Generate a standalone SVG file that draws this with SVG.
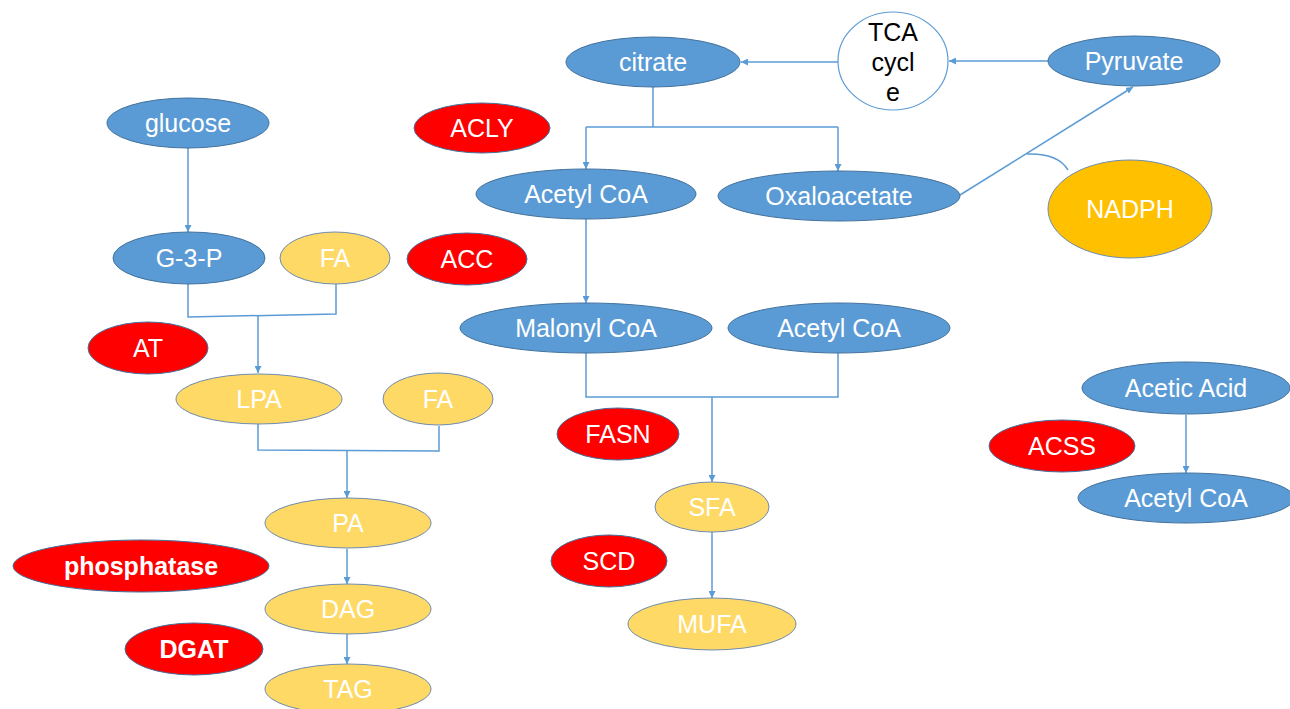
<svg xmlns="http://www.w3.org/2000/svg" width="1290" height="709" viewBox="0 0 1290 709">
<style>
.b{fill:#5B9BD5;stroke:#41719C;stroke-width:1}
.y{fill:#FFD966;stroke:#6E8BAF;stroke-width:1}
.r{fill:#FF0000;stroke:#41719C;stroke-width:1}
.o{fill:#FFC000;stroke:#6E8BAF;stroke-width:1}
.w{fill:#FFFFFF;stroke:#5B9BD5;stroke-width:1.2}
text{font-family:"Liberation Sans",Arial,sans-serif;font-size:25px;fill:#FFFFFF;text-anchor:middle}
text.bold{font-weight:bold}
text.k{fill:#000000}
.c{fill:none;stroke:#5B9BD5;stroke-width:1.5}
</style>
<defs>
<marker id="ah" viewBox="0 0 10 10" refX="10" refY="5" markerWidth="7" markerHeight="7" markerUnits="userSpaceOnUse" orient="auto">
<path d="M0,0 L10,5 L0,10 z" fill="#5B9BD5"/>
</marker>
</defs>
<g id="connectors">
<line class="c" x1="838" y1="62" x2="741" y2="62" marker-end="url(#ah)"/>
<line class="c" x1="1048" y1="61" x2="949" y2="61" marker-end="url(#ah)"/>
<polyline class="c" points="653,87 653,127"/>
<polyline class="c" points="586,127 838,127"/>
<line class="c" x1="586" y1="127" x2="586" y2="169" marker-end="url(#ah)"/>
<line class="c" x1="838" y1="127" x2="838" y2="171" marker-end="url(#ah)"/>
<line class="c" x1="960" y1="195" x2="1133" y2="87" marker-end="url(#ah)"/>
<path class="c" d="M1027,154 Q1058,153 1068,170"/>
<line class="c" x1="188" y1="148" x2="188" y2="232" marker-end="url(#ah)"/>
<polyline class="c" points="188,284 188,317 336,314 336,284"/>
<line class="c" x1="258" y1="316" x2="258" y2="373" marker-end="url(#ah)"/>
<polyline class="c" points="258,424 258,450 439,451 439,426"/>
<line class="c" x1="347" y1="450" x2="347" y2="498" marker-end="url(#ah)"/>
<line class="c" x1="347" y1="549" x2="347" y2="584" marker-end="url(#ah)"/>
<line class="c" x1="347" y1="634" x2="347" y2="664" marker-end="url(#ah)"/>
<line class="c" x1="586" y1="219" x2="586" y2="303" marker-end="url(#ah)"/>
<polyline class="c" points="586,353 586,397 838,397 838,353"/>
<line class="c" x1="712" y1="397" x2="712" y2="482" marker-end="url(#ah)"/>
<line class="c" x1="712" y1="532" x2="712" y2="598" marker-end="url(#ah)"/>
<line class="c" x1="1186" y1="415" x2="1186" y2="473" marker-end="url(#ah)"/>
</g>
<g id="citrate"><ellipse class="b" cx="653" cy="62" rx="87" ry="25"/><text x="653" y="71">citrate</text></g>
<g id="tca"><ellipse class="w" cx="893" cy="61" rx="55" ry="49"/><text class="k" x="893" y="41">TCA</text><text class="k" x="893" y="71">cycl</text><text class="k" x="893" y="101">e</text></g>
<g id="pyruvate"><ellipse class="b" cx="1134" cy="61" rx="86" ry="25"/><text x="1134" y="70">Pyruvate</text></g>
<g id="nadph"><ellipse class="o" cx="1130" cy="209" rx="82" ry="49"/><text x="1130" y="218">NADPH</text></g>
<g id="oxaloacetate"><ellipse class="b" cx="839" cy="196" rx="121" ry="25"/><text x="839" y="205">Oxaloacetate</text></g>
<g id="acetylcoa1"><ellipse class="b" cx="586" cy="194" rx="110" ry="25"/><text x="586" y="203">Acetyl CoA</text></g>
<g id="acly"><ellipse class="r" cx="482" cy="128" rx="68" ry="25"/><text x="482" y="137">ACLY</text></g>
<g id="glucose"><ellipse class="b" cx="188" cy="123" rx="81" ry="25"/><text x="188" y="132">glucose</text></g>
<g id="g3p"><ellipse class="b" cx="189" cy="258" rx="76" ry="26"/><text x="189" y="267">G-3-P</text></g>
<g id="fa1"><ellipse class="y" cx="335" cy="258" rx="55" ry="26"/><text x="335" y="267">FA</text></g>
<g id="acc"><ellipse class="r" cx="467" cy="259" rx="60" ry="26"/><text x="467" y="268">ACC</text></g>
<g id="at"><ellipse class="r" cx="148" cy="348" rx="60" ry="26"/><text x="148" y="357">AT</text></g>
<g id="lpa"><ellipse class="y" cx="259" cy="399" rx="83" ry="25"/><text x="259" y="408">LPA</text></g>
<g id="fa2"><ellipse class="y" cx="438" cy="399" rx="55" ry="26"/><text x="438" y="408">FA</text></g>
<g id="pa"><ellipse class="y" cx="348" cy="523" rx="83" ry="25"/><text x="348" y="532">PA</text></g>
<g id="dag"><ellipse class="y" cx="348" cy="609" rx="83" ry="25"/><text x="348" y="618">DAG</text></g>
<g id="tag"><ellipse class="y" cx="348" cy="689" rx="83" ry="25"/><text x="348" y="698">TAG</text></g>
<g id="phosphatase"><ellipse class="r" cx="141" cy="566" rx="128" ry="26"/><text class="bold" x="141" y="575">phosphatase</text></g>
<g id="dgat"><ellipse class="r" cx="194" cy="649" rx="69" ry="26"/><text class="bold" x="194" y="658">DGAT</text></g>
<g id="malonylcoa"><ellipse class="b" cx="586" cy="328" rx="126" ry="25"/><text x="586" y="337">Malonyl CoA</text></g>
<g id="acetylcoa2"><ellipse class="b" cx="839" cy="328" rx="111" ry="25"/><text x="839" y="337">Acetyl CoA</text></g>
<g id="fasn"><ellipse class="r" cx="618" cy="434" rx="61" ry="26"/><text x="618" y="443">FASN</text></g>
<g id="sfa"><ellipse class="y" cx="712" cy="507" rx="57" ry="25"/><text x="712" y="516">SFA</text></g>
<g id="scd"><ellipse class="r" cx="609" cy="561" rx="58" ry="26"/><text x="609" y="570">SCD</text></g>
<g id="mufa"><ellipse class="y" cx="712" cy="624" rx="84" ry="26"/><text x="712" y="633">MUFA</text></g>
<g id="aceticacid"><ellipse class="b" cx="1186" cy="388" rx="104" ry="26"/><text x="1186" y="397">Acetic Acid</text></g>
<g id="acetylcoa3"><ellipse class="b" cx="1186" cy="498" rx="108" ry="25"/><text x="1186" y="507">Acetyl CoA</text></g>
<g id="acss"><ellipse class="r" cx="1062" cy="446" rx="73" ry="26"/><text x="1062" y="455">ACSS</text></g>
</svg>
